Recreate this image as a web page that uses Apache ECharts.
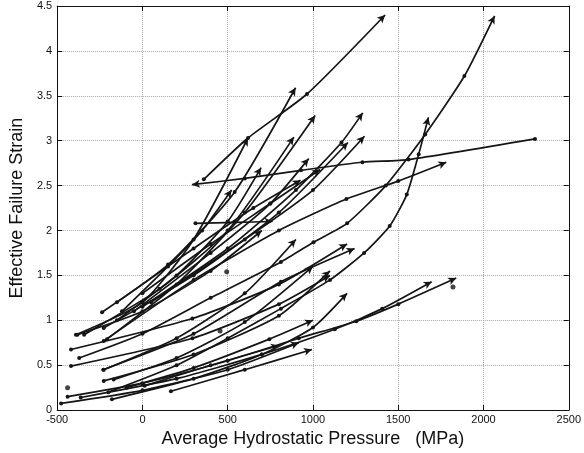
<!DOCTYPE html>
<html>
<head>
<meta charset="utf-8">
<script src="https://cdn.jsdelivr.net/npm/echarts@6/dist/echarts.min.js"></script>
<style>
  html, body { margin: 0; padding: 0; background: #fff; }
  #chart { width: 584px; height: 453px; }
</style>
</head>
<body>
<div id="chart"></div>
<script>
// pressure (MPa), effective failure strain
var curves = [
  [[-237, 1.09], [150, 1.62], [541, 2.43], [898, 3.59]],
  [[-390, 0.84], [0, 1.2], [300, 1.9], [619, 3.03]],
  [[-342, 0.84], [100, 1.35], [500, 2.0], [888, 3.04]],
  [[-150, 1.0], [200, 1.5], [500, 2.1], [696, 2.70]],
  [[-120, 1.1], [150, 1.6], [350, 2.0], [523, 2.45]],
  [[-208, 0.79], [200, 1.4], [600, 2.2], [1013, 3.28]],
  [[-50, 1.1], [400, 1.75], [750, 2.3], [975, 2.80]],
  [[0, 1.15], [500, 1.8], [900, 2.45], [1167, 2.98], [1292, 3.31]],
  [[50, 1.2], [600, 1.9], [1000, 2.45], [1302, 3.05]],
  [[-227, 0.915], [300, 1.5], [800, 2.2], [1205, 2.98]],
  [[311, 2.08], [540, 2.09], [763, 2.10]],
  [[-227, 0.77], [300, 1.45], [800, 2.0], [1196, 2.35], [1500, 2.55], [1782, 2.76]],
  [[-150, 1.2], [300, 1.8], [650, 2.25], [927, 2.56]],
  [[0, 1.3], [400, 1.85], [750, 2.3], [1042, 2.68]],
  [[360, 2.57], [619, 3.03], [965, 3.52], [1423, 4.40]],
  [[2302, 3.02], [1560, 2.79], [1290, 2.76], [930, 2.67], [600, 2.58], [290, 2.51]],
  [[-371, 0.58], [0, 0.85], [400, 1.25], [812, 1.65], [1003, 1.87], [1200, 2.08], [1427, 2.50], [1658, 3.07], [1888, 3.72], [2065, 4.39]],
  [[-200, 0.2], [200, 0.5], [500, 0.8], [812, 1.13], [1100, 1.45], [1300, 1.75], [1450, 2.05], [1550, 2.4], [1620, 2.85], [1677, 3.26]],
  [[-230, 0.45], [300, 0.85], [812, 1.43], [1244, 1.80]],
  [[167, 0.21], [600, 0.45], [994, 0.675]],
  [[-439, 0.15], [0, 0.3], [500, 0.55], [917, 0.80], [1254, 0.99], [1500, 1.18], [1840, 1.47]],
  [[-362, 0.14], [200, 0.35], [700, 0.62], [1128, 0.90], [1406, 1.13], [1696, 1.43]],
  [[-419, 0.675], [293, 1.02], [800, 1.4], [1200, 1.85]],
  [[-419, 0.49], [293, 0.80], [800, 1.18], [1100, 1.5]],
  [[-381, 0.84], [0, 1.1], [400, 1.55], [700, 2.0]],
  [[-227, 0.45], [200, 0.8], [600, 1.3], [900, 1.9]],
  [[-227, 0.325], [300, 0.62], [800, 1.05], [1100, 1.55]],
  [[-169, 0.34], [200, 0.58], [600, 0.98], [1000, 1.6]],
  [[-93, 0.25], [300, 0.47], [744, 0.79], [1000, 1.0]],
  [[-179, 0.12], [300, 0.35], [700, 0.62], [1000, 0.92], [1200, 1.3]],
  [[-477, 0.074], [0, 0.22], [500, 0.45], [917, 0.75]],
  [[13, 0.27], [400, 0.5], [800, 0.72]]
];
var looseDots = [[-439, 0.25], [494, 1.54], [455, 0.88], [1821, 1.37]];

var xMin = -500, xMax = 2500, yMin = 0, yMax = 4.5;
var plotW = 520, plotH = 406.7;

// arrow head angle from the last segment, in screen pixels
function headAngle(pts) {
  var a = pts[pts.length - 2], b = pts[pts.length - 1];
  var dx = (b[0] - a[0]) * plotW / (xMax - xMin);
  var dy = (b[1] - a[1]) * plotH / (yMax - yMin);
  return Math.atan2(dy, dx) * 180 / Math.PI - 90;
}

var series = curves.map(function (pts) {
  var last = pts.length - 1;
  return {
    type: 'line',
    smooth: 0.2,
    showAllSymbol: true,
    symbol: 'circle',
    symbolSize: 4,
    itemStyle: { color: '#151515' },
    lineStyle: { color: '#151515', width: 1.7 },
    data: pts.map(function (p, i) {
      if (i === last) {
        return { value: p, symbol: 'arrow', symbolSize: [6, 8], symbolRotate: headAngle(pts) };
      }
      return { value: p };
    }),
    z: 3
  };
});
series.push({
  type: 'scatter',
  symbolSize: 5,
  itemStyle: { color: '#151515' },
  data: looseDots,
  z: 3
});

var chart = echarts.init(document.getElementById('chart'));
var tickFont = { color: '#111', fontSize: 11, fontFamily: 'Liberation Sans' };
var gridLine = { show: true, lineStyle: { color: '#aaa', type: 'dotted', width: 1 } };
chart.setOption({
  animation: false,
  grid: { left: 53, right: 11, top: 6, bottom: 40 },
  xAxis: [
    {
      type: 'value', min: xMin, max: xMax, interval: 500,
      name: 'Average Hydrostatic Pressure   (MPa)',
      nameLocation: 'middle', nameGap: 16,
      nameTextStyle: { color: '#111', fontSize: 18, fontFamily: 'Liberation Sans' },
      axisLine: { onZero: false, lineStyle: { color: '#111', width: 1 } },
      axisTick: { inside: true, length: 5, lineStyle: { color: '#111' } },
      axisLabel: Object.assign({ margin: 4, formatter: function (v) { return String(v); } }, tickFont),
      splitLine: gridLine
    },
    {
      type: 'value', min: xMin, max: xMax, interval: 500, position: 'top',
      axisLine: { onZero: false, lineStyle: { color: '#111', width: 1 } },
      axisTick: { inside: true, length: 5, lineStyle: { color: '#111' } },
      axisLabel: { show: false },
      splitLine: { show: false }
    }
  ],
  yAxis: [
    {
      type: 'value', min: yMin, max: yMax, interval: 0.5,
      name: 'Effective Failure Strain',
      nameLocation: 'middle', nameGap: 15, nameRotate: 90,
      nameTextStyle: { color: '#111', fontSize: 18, fontFamily: 'Liberation Sans' },
      axisLine: { show: true, onZero: false, lineStyle: { color: '#111', width: 1 } },
      axisTick: { show: true, inside: true, length: 5, lineStyle: { color: '#111' } },
      axisLabel: Object.assign({ margin: 5 }, tickFont),
      splitLine: gridLine
    },
    {
      type: 'value', min: yMin, max: yMax, interval: 0.5, position: 'right',
      axisLine: { show: true, onZero: false, lineStyle: { color: '#111', width: 1 } },
      axisTick: { show: true, inside: true, length: 5, lineStyle: { color: '#111' } },
      axisLabel: { show: false },
      splitLine: { show: false }
    }
  ],
  series: series
});
</script>
</body>
</html>
